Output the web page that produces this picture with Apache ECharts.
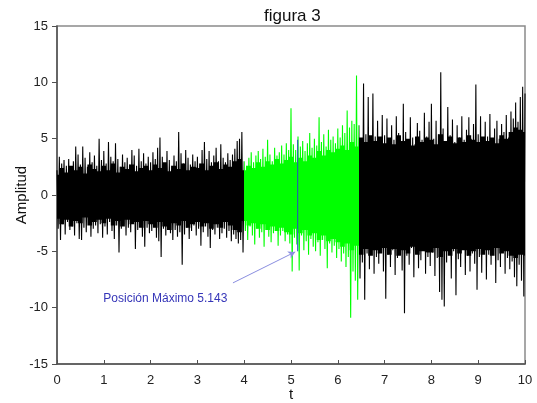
<!DOCTYPE html>
<html>
<head>
<meta charset="utf-8">
<script src="https://cdn.jsdelivr.net/npm/echarts@6/dist/echarts.min.js"></script>
<style>html,body{margin:0;padding:0;background:#fff}#c{width:537px;height:403px}</style>
</head>
<body>
<div id="c"></div>
<script>
// Spike envelope of the signal: one value every 0.05 s (t = 0 .. 10)
const tStep = 0.05;
const upperEnv = [
  2.2, 3.4, 2.8, 3.1, 2.6, 3.2, 2.4, 3.0, 4.3, 3.6, 2.7, 4.3, 3.3, 2.5, 3.8, 2.9, 3.5, 2.6, 5.0, 3.1,
  3.9, 2.8, 4.7, 3.4, 3.0, 4.6, 3.2, 2.5, 3.6, 2.9, 3.3, 2.7, 4.0, 3.5, 2.6, 4.1, 3.0, 3.7, 2.8, 3.4,
  2.9, 3.8, 3.2, 4.2, 5.1, 3.4, 2.7, 3.9, 3.1, 2.6, 3.5, 3.0, 5.6, 3.7, 2.8, 4.0, 3.3, 2.7, 3.6, 3.0,
  3.4, 2.8, 4.0, 4.7, 3.2, 3.9, 2.9, 3.5, 4.2, 3.0, 4.5, 3.3, 2.9, 3.7, 3.1, 3.6, 4.1, 4.8, 5.0, 5.6,
  3.0, 2.6, 3.3, 3.8, 2.9, 3.5, 3.9, 3.2, 4.1, 3.4, 4.9, 3.6, 3.0, 4.2, 3.5, 3.8, 4.4, 3.6, 4.6, 4.0,
  7.7, 4.5, 4.0, 5.2, 4.3, 4.8, 3.9, 4.6, 5.5, 4.2, 5.0, 4.4, 6.9, 4.7, 5.4, 4.3, 5.8, 4.9, 5.2, 4.6,
  5.9, 5.1, 6.2, 5.5, 7.5, 6.0, 6.6, 6.3, 10.6,
  6.2, 5.0, 9.9, 5.4, 8.7, 4.8, 9.0, 5.2, 6.6, 4.9, 7.1,
  5.3, 6.8, 4.6, 6.2, 4.9, 7.0, 5.5, 4.7, 8.1, 5.6, 4.8, 6.9, 5.1, 4.5, 6.4, 5.7, 4.9, 7.3, 5.2, 6.5,
  8.1, 5.0, 6.6, 5.4, 10.9, 5.9, 4.8, 7.8, 5.3, 6.7, 4.7, 6.2, 5.1, 7.0, 4.9, 5.8, 6.9, 5.0, 6.3, 9.8,
  5.4, 7.0, 4.9, 6.5, 5.2, 7.2, 4.8, 5.9, 6.6, 5.0, 6.3, 5.6, 7.1, 5.1, 7.4, 6.8, 8.2, 6.5, 8.7, 9.6, 9.0
];
const lowerEnv = [
  -3.0, -4.0, -2.6, -3.5, -2.4, -3.1, -2.8, -3.6, -2.5, -3.9, -4.0, -2.9, -3.3, -2.5, -3.7, -3.0, -2.7, -3.4, -2.6, -3.8,
  -2.8, -3.5, -2.4, -3.2, -3.9, -2.7, -5.1, -3.0, -2.6, -3.6, -2.9, -3.3, -2.5, -4.8, -3.1, -2.8, -3.7, -4.6, -2.9, -3.4,
  -3.2, -2.6, -3.8, -4.1, -5.5, -3.0, -3.6, -2.8, -3.4, -4.0, -3.1, -3.7, -3.3, -6.2, -3.5, -2.9, -3.9, -3.2, -2.7, -3.6,
  -3.0, -4.5, -3.3, -2.8, -3.7, -4.7, -3.1, -3.5, -2.9, -3.9, -3.4, -3.0, -3.8, -3.2, -4.1, -3.5, -3.9, -4.3, -4.0, -5.1,
  -3.2, -4.0, -2.8, -3.6, -4.4, -3.0, -3.8, -3.3, -4.6, -3.1, -3.7, -4.2, -3.4, -3.0, -4.5, -3.6, -3.2, -4.1, -3.5, -4.3,
  -6.8, -3.8, -4.4, -6.7, -3.6, -4.9, -4.1, -5.3, -3.9, -4.6, -5.0, -4.2, -5.4, -4.0, -4.8, -6.5, -4.3, -5.1, -4.5, -5.6,
  -4.8, -5.9, -5.2, -6.4, -5.5, -10.9, -6.8, -7.6, -9.3,
  -7.4, -6.0, -9.3, -5.2, -6.6, -4.8, -7.0, -5.5, -6.1, -4.9, -6.8,
  -9.2, -5.3, -6.4, -4.9, -7.1, -5.6, -4.8, -6.7, -10.5, -5.4, -6.2, -4.7, -7.3, -5.0, -6.5, -5.8, -4.9, -7.0, -5.5, -6.3,
  -5.1, -7.2, -5.6, -8.6, -9.3, -9.9, -6.0, -5.3, -7.4, -5.0, -8.9, -5.7, -6.4, -4.8, -7.1, -5.4, -6.8, -5.2, -6.1, -8.4,
  -5.5, -6.9, -4.9, -7.5, -5.3, -6.2, -4.7, -7.8, -5.8, -6.4, -5.0, -7.0, -5.6, -6.6, -5.9, -7.3, -8.1, -6.2, -7.6, -9.0, -7.7
];
// Solid core of the signal: one value every 0.1 s (t = 0 .. 10)
const coreStep = 0.1;
const coreUpper = [
  1.8, 2.4, 2.0, 2.6, 2.2, 2.5, 1.9, 2.7, 2.3, 2.1,
  2.6, 2.2, 2.8, 2.0, 2.5, 2.3, 2.7, 2.1, 2.4, 2.6,
  2.2, 2.7, 2.4, 2.9, 2.1, 2.6, 2.3, 2.8, 2.2, 2.5,
  2.4, 2.8, 2.2, 2.6, 2.9, 2.3, 2.7, 2.5, 3.0, 3.2,
  2.2, 2.6, 2.4, 2.9, 2.5, 3.0, 2.7, 3.2, 2.8, 3.1,
  3.4, 2.9, 3.3, 3.0, 3.5, 3.3, 3.9, 3.5, 4.0, 3.8,
  4.1, 4.4, 4.0, 4.7, 4.3, 5.1, 4.7, 5.3, 4.8, 5.2,
  4.6, 5.1, 4.5, 5.3, 4.8, 5.0, 4.4, 5.2, 4.7, 5.1,
  4.9, 4.5, 5.4, 4.8, 5.2, 4.6, 5.1, 4.7, 5.3, 4.9,
  4.7, 5.2, 4.8, 5.1, 4.6, 5.3, 5.0, 5.6, 6.0, 5.8,
  5.6
];
const coreLower = [
  -2.1, -2.6, -2.2, -2.8, -2.3, -2.5, -2.0, -2.7, -2.4, -2.2,
  -2.5, -2.1, -2.7, -2.3, -2.8, -2.2, -2.6, -2.4, -2.9, -2.3,
  -2.6, -2.9, -2.4, -2.8, -3.1, -2.5, -2.7, -2.3, -2.9, -2.6,
  -2.4, -2.8, -2.5, -3.0, -2.6, -2.9, -2.4, -2.7, -3.1, -3.3,
  -2.3, -2.7, -2.5, -3.0, -2.6, -3.1, -2.8, -3.2, -2.9, -3.3,
  -3.5, -3.0, -3.4, -3.1, -3.6, -3.4, -4.0, -3.6, -4.1, -3.9,
  -4.2, -4.6, -4.3, -4.9, -4.5, -5.3, -4.8, -5.4, -4.9, -5.2,
  -4.7, -5.3, -4.8, -5.4, -4.9, -5.2, -4.6, -5.3, -5.0, -5.1,
  -5.1, -4.7, -5.5, -5.0, -5.4, -4.8, -5.2, -4.9, -5.4, -5.0,
  -4.8, -5.3, -4.9, -5.4, -4.7, -5.2, -5.0, -5.4, -5.6, -5.3,
  -5.4
];
// colour segments: green between these times
const greenFrom = 4.0, greenTo = 6.45;
const signalColor = '#000000', greenColor = '#00ff00';
// marker of the maximum
const maxPos = 5.143;
const maxLine = [4.9, -5.0];
const arrowFrom = [3.76, -7.8];
const arrowTo = [5.09, -5.05];
const labelAt = [0.99, -9.23];
const labelText = 'Posición Máximo 5.143';
const xTicks = {min: 0, max: 10, interval: 1};
const yTicks = {min: -15, max: 15, interval: 5};

const n = upperEnv.length;
const zig = [];
for (let i = 0; i < n; i++) {
  zig.push([+(i * tStep).toFixed(3), upperEnv[i]]);
  if (i < n - 1) zig.push([+(i * tStep + tStep / 2).toFixed(3), lowerEnv[i]]);
}
const coreU = coreUpper.map((v, i) => [+(i * coreStep).toFixed(3), v]);
const coreL = coreLower.map((v, i) => [+(i * coreStep).toFixed(3), v]);

const base = {type: 'line', showSymbol: false, symbol: 'none', silent: true, sampling: false};
const series = [
  Object.assign({}, base, {data: coreU, step: 'middle', lineStyle: {width: 0}, areaStyle: {opacity: 1}, z: 1}),
  Object.assign({}, base, {data: coreL, step: 'middle', lineStyle: {width: 0}, areaStyle: {opacity: 1}, z: 1}),
  Object.assign({}, base, {data: zig, lineStyle: {width: 1.1}, z: 2}),
  Object.assign({}, base, {
    data: [[maxPos, maxLine[0]], [maxPos, maxLine[1]]],
    lineStyle: {color: '#2a44c8', width: 1}, itemStyle: {color: '#2a44c8'}, z: 5,
    markLine: {
      silent: true, symbol: ['none', 'arrow'], symbolSize: [6, 7],
      lineStyle: {color: '#8a8ee0', width: 1, type: 'solid'}, label: {show: false},
      data: [[{coord: arrowFrom}, {coord: arrowTo}]]
    },
    markPoint: {
      silent: true,
      data: [{coord: labelAt, symbol: 'circle', symbolSize: 0,
        label: {show: true, position: 'right', distance: 0, formatter: labelText,
          color: '#3535b8', fontSize: 12, fontFamily: 'Liberation Sans'}}]
    }
  })
];

const chart = echarts.init(document.getElementById('c'));
chart.setOption({
  animation: false,
  backgroundColor: '#ffffff',
  title: {text: 'figura 3', left: 259, top: 3,
    textStyle: {fontSize: 17, fontWeight: 'normal', color: '#111', fontFamily: 'Liberation Sans'}},
  visualMap: {
    show: false, type: 'piecewise', dimension: 0, seriesIndex: [0, 1, 2],
    pieces: [
      {lt: greenFrom, color: signalColor},
      {gte: greenFrom, lt: greenTo, color: greenColor},
      {gte: greenTo, color: signalColor}
    ]
  },
  grid: {left: 57, right: 12, top: 26, bottom: 39, outerBoundsMode: 'none', containLabel: false,
    show: true, borderColor: '#8a8a8a', borderWidth: 1.5},
  xAxis: {
    type: 'value', min: xTicks.min, max: xTicks.max, interval: xTicks.interval,
    name: 't', nameLocation: 'middle', nameGap: 23, nameMoveOverlap: false,
    nameTextStyle: {fontSize: 15, color: '#111', fontFamily: 'Liberation Sans'},
    axisLine: {onZero: false, lineStyle: {color: '#505050', width: 1.5}},
    axisTick: {inside: true, length: 4, lineStyle: {color: '#505050'}},
    axisLabel: {fontSize: 13, color: '#222', margin: 10, fontFamily: 'Liberation Sans'},
    splitLine: {show: false}
  },
  yAxis: {
    type: 'value', min: yTicks.min, max: yTicks.max, interval: yTicks.interval,
    name: 'Amplitud', nameLocation: 'middle', nameGap: 28, nameMoveOverlap: false,
    nameTextStyle: {fontSize: 15, color: '#111', fontFamily: 'Liberation Sans'},
    axisLine: {show: true, onZero: false, lineStyle: {color: '#505050', width: 1.5}},
    axisTick: {show: true, inside: false, length: 5, lineStyle: {color: '#505050'}},
    axisLabel: {fontSize: 13, color: '#222', margin: 9, fontFamily: 'Liberation Sans'},
    splitLine: {show: false}
  },
  series: series
});
</script>
</body>
</html>
